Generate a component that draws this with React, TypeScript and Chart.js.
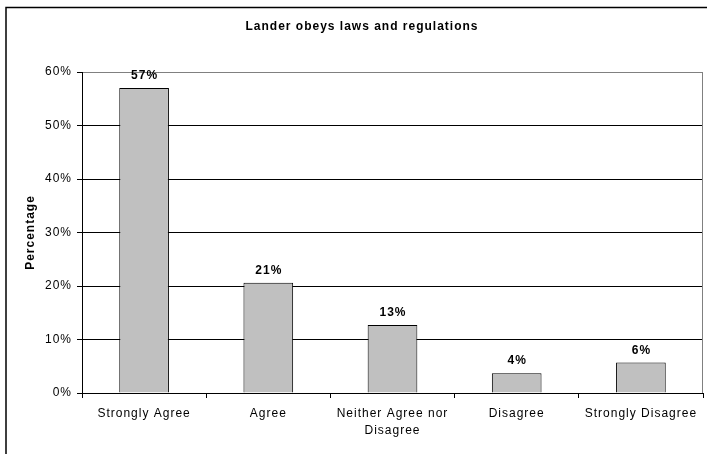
import React, { useEffect, useRef } from "react";
import { Chart, registerables } from "chart.js";

Chart.register(...registerables);

const titleText = "Lander obeys laws and regulations";
const yAxisTitle = "Percentage";
const categories: (string | string[])[] = [
  "Strongly Agree",
  "Agree",
  ["Neither Agree nor", "Disagree"],
  "Disagree",
  "Strongly Disagree",
];
const percentages = [57, 20.6, 12.7, 3.7, 5.7];
const valueLabels = ["57%", "21%", "13%", "4%", "6%"];
const yMax = 60;
const yStep = 10;

const FONT = "Arial, 'Liberation Sans', sans-serif";

const spacingPlugin = {
  id: "spacing",
  beforeLayout(chart: any) {
    chart.ctx.letterSpacing = "1px";
  },
  beforeDraw(chart: any) {
    chart.ctx.letterSpacing = "1px";
  },
};

const framePlugin = {
  id: "frame",
  afterDraw(chart: any) {
    const ctx = chart.ctx;
    const { top, bottom, right } = chart.chartArea;
    ctx.save();
    ctx.strokeStyle = "#000";
    ctx.lineWidth = 1.5;
    ctx.beginPath();
    ctx.moveTo(6, chart.height + 2);
    ctx.lineTo(6, 7.5);
    ctx.lineTo(chart.width + 2, 7.5);
    ctx.stroke();
    ctx.strokeStyle = "#808080";
    ctx.lineWidth = 1;
    ctx.beginPath();
    ctx.moveTo(Math.round(right) - 0.5, top);
    ctx.lineTo(Math.round(right) - 0.5, bottom);
    ctx.stroke();
    ctx.fillStyle = "#000";
    ctx.letterSpacing = "1px";
    ctx.textAlign = "center";
    ctx.textBaseline = "middle";
    ctx.font = `bold 12px ${FONT}`;
    ctx.fillText(titleText, 362, 27);
    const meta = chart.getDatasetMeta(0);
    ctx.textBaseline = "alphabetic";
    meta.data.forEach((bar: any, i: number) => {
      ctx.fillText(valueLabels[i], bar.x + 0.5, bar.y - 9);
    });
    ctx.restore();
  },
};

export default function App() {
  const ref = useRef<HTMLCanvasElement | null>(null);
  useEffect(() => {
    if (!ref.current) return;
    const chart = new Chart(ref.current, {
      type: "bar",
      data: {
        labels: categories,
        datasets: [
          {
            data: percentages,
            backgroundColor: "#C0C0C0",
            borderColor: "#000",
            borderWidth: 1,
            barPercentage: 0.4,
            categoryPercentage: 1,
          },
        ],
      },
      options: {
        animation: false,
        responsive: false,
        maintainAspectRatio: false,
        layout: { padding: { left: 0, right: 4, top: 72, bottom: 0 } },
        plugins: {
          legend: { display: false },
          tooltip: { enabled: false },
          title: { display: false },
        },
        scales: {
          x: {
            offset: true,
            grid: {
              offset: true,
              drawOnChartArea: false,
              drawTicks: true,
              tickLength: 5,
              color: "#000",
            },
            border: { display: true, color: "#000", width: 1 },
            ticks: {
              color: "#000",
              font: { family: FONT, size: 12, lineHeight: 1.45 },
              maxRotation: 0,
              autoSkip: false,
              padding: 7,
            },
            afterFit(scale: any) {
              scale.height = 61;
            },
          },
          y: {
            min: 0,
            max: yMax,
            ticks: {
              stepSize: yStep,
              color: "#000",
              font: { family: FONT, size: 12 },
              padding: 5,
              callback: (v: any) => `${v}%`,
            },
            grid: {
              color: (c: any) => (c.tick && c.tick.value === yMax ? "#808080" : "#000"),
              tickColor: "#000",
              tickLength: 5,
              lineWidth: 1,
            },
            border: { display: true, color: "#000", width: 1 },
            title: {
              display: true,
              text: yAxisTitle,
              color: "#000",
              font: { family: FONT, size: 12, weight: "bold" },
              padding: { top: 23, bottom: 0 },
            },
            afterFit(scale: any) {
              scale.width = 82;
            },
          },
        },
      },
      plugins: [spacingPlugin, framePlugin],
    });
    return () => chart.destroy();
  }, []);
  return (
    <div style={{ position: "fixed", left: 0, top: 0, width: 707, height: 454, background: "#fff" }}>
      <canvas ref={ref} width={707} height={454} style={{ display: "block" }} />
    </div>
  );
}
